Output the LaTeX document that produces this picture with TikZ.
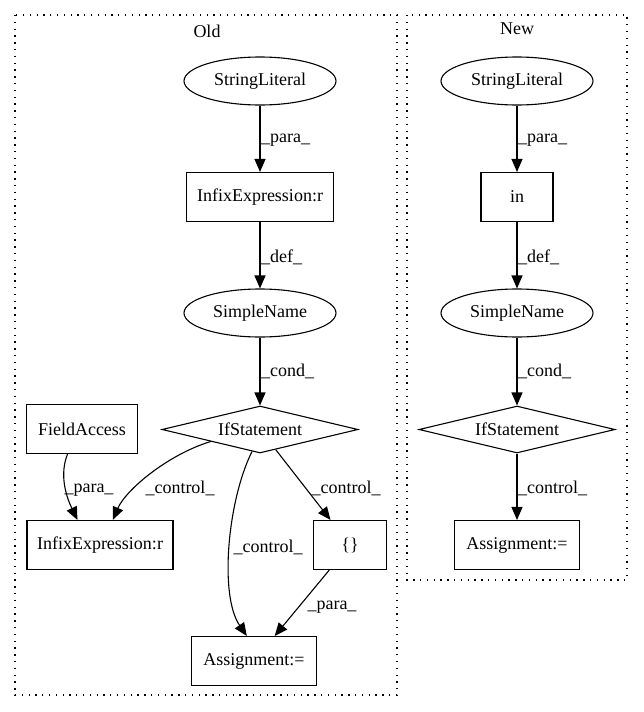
\documentclass[tikz,border=0pt]{standalone}
\usepackage{fontspec}
\setmainfont{Liberation Serif}
\usetikzlibrary{arrows.meta,shapes.geometric}

\begin{document}
\begin{tikzpicture}[x=1pt, y=-1pt,
    every node/.style={font=\fontsize{18}{21}\selectfont},
    box/.style={draw, line width=1.1pt, minimum width=#1, minimum height=49pt, inner sep=0pt},
    box/.default=125pt,
    ellip/.style={draw, ellipse, line width=1.1pt, minimum width=152pt, minimum height=48pt, inner sep=0pt},
    cond/.style={draw, diamond, line width=1.1pt, minimum width=196pt, minimum height=47pt, inner sep=0pt, aspect=4},
    edge/.style={-{Triangle[length=13pt,width=11pt]}, line width=1.1pt},
    lbl/.style={inner sep=1pt},
    cluster/.style={line width=1.3pt, dash pattern=on 1.3pt off 5.5pt}]
    \useasboundingbox (0,0) rectangle (643,712);

    % the two clusters
    \draw[cluster] (15,15) rectangle (397,695);
    \draw[cluster] (407,15) rectangle (627,580);
    \node (old) at (207,31) {Old};
    \node (new) at (517,29) {New};

    % the old nodes
    \node[ellip] (sl1) at (260,81) {StringLiteral};
    \node[box=147pt] (ie1) at (260,197) {InfixExpression:r};
    \node[ellip] (sn1) at (260,313) {SimpleName};
    \node[cond] (if1) at (260,429.5) {IfStatement};
    \node[box=111pt] (fa) at (82,429) {FieldAccess};
    \node[box=146pt] (ie2) at (100,545) {InfixExpression:r};
    \node[box=73pt] (br) at (350,545) {\{\}};
    \node[box] (as1) at (254,661) {Assignment:=};

    % the new nodes
    \node[ellip] (sl2) at (517,81) {StringLiteral};
    \node[box=72pt] (in) at (517,197) {in};
    \node[ellip] (sn2) at (517,313) {SimpleName};
    \node[cond] (if2) at (517,429.5) {IfStatement};
    \node[box] (as2) at (517,545) {Assignment:=};

    % the old edges
    \draw[edge] (sl1) -- (ie1);
    \node[lbl, anchor=west] (p1) at (260,140) {\_para\_};
    \draw[edge] (ie1) -- (sn1);
    \node[lbl, anchor=west] (d1) at (260,257) {\_def\_};
    \draw[edge] (sn1) -- (if1);
    \node[lbl, anchor=west] (c1) at (260,371) {\_cond\_};
    \draw[edge] (if1.south west) .. controls +(-43,13) and +(13,-30) .. (ie2.63);
    \node[lbl] (k1) at (180,488) {\_control\_};
    \draw[edge] (fa.240) .. controls +(-8,20) and +(-12,-25) .. (ie2.132);
    \node[lbl] (p2) at (89,490) {\_para\_};
    \draw[edge] (if1.250) .. controls +(-24,48) and +(-28,-41) .. (as1.106);
    \node[lbl] (k2) at (268,547) {\_control\_};
    \draw[edge] (if1) -- (br);
    \node[lbl] (k3) at (346,488) {\_control\_};
    \draw[edge] (br) -- (as1);
    \node[lbl] (p3) at (332,607) {\_para\_};

    % the new edges
    \draw[edge] (sl2) -- (in);
    \node[lbl, anchor=west] (p4) at (517,140) {\_para\_};
    \draw[edge] (in) -- (sn2);
    \node[lbl, anchor=west] (d2) at (517,257) {\_def\_};
    \draw[edge] (sn2) -- (if2);
    \node[lbl, anchor=west] (c2) at (517,371) {\_cond\_};
    \draw[edge] (if2) -- (as2);
    \node[lbl, anchor=west] (k4) at (517,488) {\_control\_};
\end{tikzpicture}
\end{document}
